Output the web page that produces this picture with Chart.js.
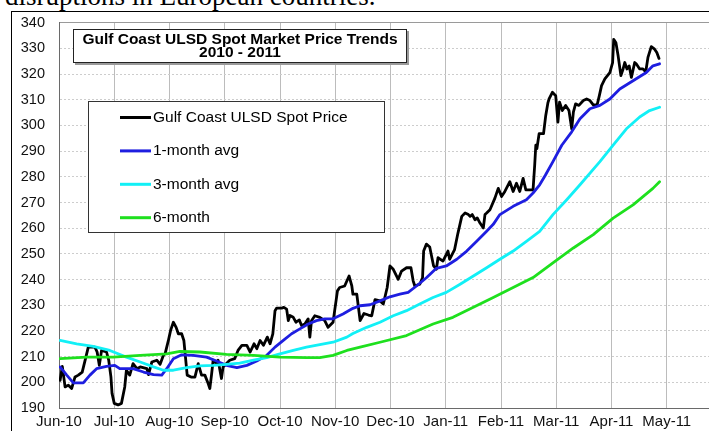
<!DOCTYPE html>
<html><head><meta charset="utf-8">
<script src="https://cdn.jsdelivr.net/npm/chart.js@4.4.1/dist/chart.umd.min.js"></script>
<style>
html,body{margin:0;padding:0;background:#fff;overflow:hidden;width:709px;height:431px;}
#note{position:absolute;left:5px;top:-17px;font-family:'Liberation Serif',serif;font-size:27px;line-height:27px;white-space:nowrap;color:#000;}
#frame{position:absolute;left:11px;top:11px;width:800px;height:500px;border:1px solid #000;box-sizing:border-box;}
#wrap{position:absolute;left:0;top:0;width:760px;height:431px;}
</style></head><body>
<div id="note">disruptions in European countries.</div>
<div id="frame"></div>
<div id="wrap"><canvas id="c" width="760" height="431"></canvas></div>
<script>
const months = ['Jun-10','Jul-10','Aug-10','Sep-10','Oct-10','Nov-10','Dec-10','Jan-11','Feb-11','Mar-11','Apr-11','May-11'];
const yTicks = [190,200,210,220,230,240,250,260,270,280,290,300,310,320,330,340];
const seriesNames = ['Gulf Coast ULSD Spot Price','1-month avg','3-month avg','6-month'];

// x positions are in months since Jun-10
const spotX = [
 0.02,0.06,0.11,0.17,0.23,0.29,0.35,0.42,0.48,0.53,
 0.65,0.69,0.73,0.77,0.86,0.90,0.94,0.96,1.00,1.07,
 1.13,1.19,1.22,1.28,1.34,1.41,1.47,1.59,1.62,1.68,
 1.77,1.83,1.89,1.92,1.98,2.02,2.07,2.12,2.16,2.22,
 2.26,2.32,2.40,2.46,2.52,2.58,2.64,2.70,2.73,2.76,
 2.79,2.85,2.88,2.94,2.97,3.09,3.18,3.24,3.31,3.40,
 3.46,3.53,3.58,3.64,3.70,3.77,3.82,3.87,3.91,3.94,
 4.03,4.07,4.12,4.15,4.18,4.24,4.29,4.35,4.39,4.45,
 4.51,4.54,4.57,4.63,4.72,4.81,4.87,4.96,4.99,5.04,
 5.08,5.17,5.25,5.30,5.32,5.39,5.45,5.52,5.60,5.66,
 5.72,5.81,5.87,5.94,5.99,6.05,6.14,6.20,6.29,6.37,
 6.41,6.44,6.53,6.58,6.60,6.65,6.71,6.78,6.83,6.86,
 6.95,7.04,7.07,7.16,7.22,7.29,7.35,7.41,7.44,7.48,
 7.53,7.57,7.62,7.68,7.71,7.74,7.80,7.89,7.95,8.01,
 8.07,8.16,8.22,8.28,8.34,8.40,8.45,8.52,8.58,8.61,
 8.63,8.65,8.69,8.77,8.81,8.85,8.87,8.93,8.99,9.03,
 9.06,9.11,9.17,9.23,9.28,9.31,9.35,9.41,9.49,9.55,
 9.61,9.67,9.74,9.78,9.82,9.88,9.97,10.02,10.04,10.08,
 10.12,10.17,10.21,10.24,10.28,10.32,10.36,10.42,10.45,10.51,
 10.57,10.62,10.66,10.72,10.78,10.82,10.86];
const spotY = [
 200.8,206.2,198.2,198.9,197.6,202.1,202.8,204.0,209.2,213.7,
 213.7,211.8,206.6,212.4,211.8,208.6,202.1,195.7,191.8,191.2,
 191.8,198.2,204.7,202.8,207.3,205.3,206.0,205.3,203.0,207.9,
 208.6,207.0,210.5,211.1,216.3,220.2,223.4,221.4,218.9,218.9,
 216.3,202.8,202.0,202.0,207.3,202.8,202.8,199.5,197.6,202.8,
 208.6,207.3,208.6,201.5,206.0,208.6,209.2,212.4,214.4,214.4,
 211.8,215.0,213.1,216.3,214.4,217.6,215.0,218.9,227.9,228.9,
 228.9,229.2,228.5,224.0,226.0,225.3,223.4,224.3,222.1,222.7,
 224.7,217.6,224.0,225.9,225.3,224.0,221.4,223.4,228.0,235.6,
 236.9,237.5,241.4,237.5,234.3,234.3,224.0,226.8,226.2,225.9,
 232.2,231.7,230.5,236.9,245.3,244.0,240.1,243.3,244.6,244.6,
 239.5,237.5,238.2,240.7,251.1,253.8,252.7,245.3,244.0,248.5,
 247.2,251.1,247.9,251.7,258.0,264.6,265.9,265.3,264.6,265.3,
 263.3,264.0,262.0,260.1,265.3,265.9,267.2,271.7,275.5,272.3,
 274.3,278.1,274.3,277.5,274.3,279.4,274.9,274.9,274.9,284.6,
 292.3,291.0,296.8,296.8,303.9,308.9,310.3,312.9,311.6,301.3,
 309.1,305.8,307.8,305.8,298.7,305.2,308.4,307.8,309.7,310.3,
 309.7,308.0,308.0,311.6,315.5,318.1,320.6,324.5,333.5,332.2,
 327.1,319.4,322.0,324.5,322.0,323.2,318.7,324.5,323.9,322.0,
 322.0,320.9,326.5,330.7,329.7,328.4,326.1];

const avg1X = [0.02,0.14,0.26,0.44,0.56,0.68,0.86,1.01,1.10,1.34,1.53,1.71,1.86,1.95,2.07,2.22,2.43,2.67,2.85,3.03,3.22,3.40,3.58,3.76,3.91,4.06,4.21,4.36,4.51,4.66,4.81,4.96,5.14,5.32,5.45,5.63,5.81,5.99,6.17,6.32,6.47,6.65,6.83,7.01,7.20,7.38,7.56,7.74,7.86,7.98,8.22,8.46,8.58,8.70,8.80,8.94,9.10,9.28,9.43,9.61,9.79,9.97,10.15,10.39,10.63,10.75,10.87];
const avg1Y = [206.0,202.8,199.8,199.8,202.8,205.3,206.2,206.6,205.3,205.3,204.0,203.0,202.8,205.3,209.2,210.7,210.5,209.8,208.3,206.6,205.7,206.6,208.3,210.5,213.7,216.3,218.9,220.8,222.7,224.0,224.7,224.7,226.6,228.8,229.8,230.2,231.7,233.3,234.3,235.0,237.5,240.7,244.4,245.3,247.9,251.1,254.9,258.8,261.5,265.3,268.5,271.1,273.7,276.9,280.5,285.9,292.3,297.5,302.6,306.5,307.8,310.3,314.2,317.4,320.6,323.2,324.0];

const avg3X = [0.02,0.32,0.62,0.92,1.22,1.47,1.71,1.89,2.07,2.31,2.55,2.79,3.03,3.27,3.52,3.76,4.00,4.24,4.48,4.72,4.96,5.21,5.32,5.57,5.81,6.05,6.29,6.53,6.77,7.01,7.26,7.50,7.74,7.98,8.22,8.46,8.70,8.94,9.19,9.43,9.79,10.03,10.27,10.51,10.69,10.87];
const avg3Y = [216.3,215.0,214.0,212.4,209.8,207.9,206.0,204.7,204.7,205.7,206.4,206.6,207.0,207.5,208.6,209.6,211.1,212.4,213.7,214.7,215.6,217.6,219.0,221.4,223.4,225.9,227.9,230.5,233.0,235.0,238.2,241.4,244.6,247.9,251.1,254.9,258.8,265.3,271.1,276.9,285.9,292.3,298.7,303.3,305.8,307.1];

const avg6X = [0.02,0.50,0.98,1.47,1.95,2.19,2.55,3.03,3.52,4.00,4.48,4.72,4.96,5.21,5.45,5.81,6.29,6.77,7.13,7.50,7.86,8.22,8.58,8.94,9.31,9.67,10.03,10.39,10.75,10.87];
const avg6Y = [209.2,209.8,209.8,210.5,211.1,212.0,211.8,210.9,210.5,209.8,209.6,209.6,210.5,212.4,213.7,215.6,218.2,222.7,225.3,229.2,233.0,236.9,240.8,246.5,252.3,257.5,263.9,269.1,275.5,278.1];

const colors = ['#000000','#1e1ee0','#12f0f6','#1ee01e'];

function pts(xs, ys){ return xs.map((x,i)=>({x:x, y:ys[i]})); }

const boxes = {
  id:'boxes',
  afterDatasetsDraw(chart){
    const ctx = chart.ctx;
    ctx.save();
    // title box
    ctx.fillStyle = '#9a9a9a';
    ctx.fillRect(75, 31, 334, 34);
    ctx.fillStyle = '#fff';
    ctx.fillRect(73, 29, 334, 34);
    ctx.strokeStyle = '#222';
    ctx.lineWidth = 1;
    ctx.strokeRect(73.5, 29.5, 333, 33);
    ctx.fillStyle = '#000';
    ctx.font = 'bold 15.5px "Liberation Sans"';
    ctx.textAlign = 'center';
    ctx.textBaseline = 'middle';
    ctx.fillText('Gulf Coast ULSD Spot Market Price Trends', 240, 39.5);
    ctx.fillText('2010 - 2011', 240, 53);
    // legend box
    ctx.fillStyle = '#fff';
    ctx.fillRect(88, 101, 297, 132);
    ctx.strokeStyle = '#333';
    ctx.strokeRect(88.5, 101.5, 296, 131);
    ctx.textAlign = 'left';
    ctx.font = '15.5px "Liberation Sans"';
    chart.data.datasets.forEach((ds, i) => {
      const y = 117.5 + i * 33.4;
      ctx.strokeStyle = ds.borderColor;
      ctx.lineWidth = 3;
      ctx.beginPath();
      ctx.moveTo(120, y); ctx.lineTo(151, y);
      ctx.stroke();
      ctx.fillStyle = '#000';
      ctx.fillText(ds.label, 153, y);
    });
    ctx.restore();
  }
};

new Chart(document.getElementById('c'), {
  type: 'line',
  data: {
    datasets: [
      {label: seriesNames[0], data: pts(spotX, spotY), borderColor: colors[0], borderWidth: 2.8, order: 4},
      {label: seriesNames[1], data: pts(avg1X, avg1Y), borderColor: colors[1], borderWidth: 2.8, order: 3},
      {label: seriesNames[2], data: pts(avg3X, avg3Y), borderColor: colors[2], borderWidth: 2.8, order: 2},
      {label: seriesNames[3], data: pts(avg6X, avg6Y), borderColor: colors[3], borderWidth: 2.8, order: 1}
    ]
  },
  options: {
    responsive: false,
    animation: false,
    events: [],
    layout: {padding: {left: 0, right: 38, top: 20, bottom: 0}},
    elements: {point: {radius: 0}, line: {tension: 0, borderJoinStyle: 'round', borderCapStyle: 'round'}},
    plugins: {legend: {display: false}, tooltip: {enabled: false}, title: {display: false}},
    scales: {
      x: {
        type: 'linear', min: 0, max: 12,
        afterBuildTicks: s => { s.ticks = months.map((m, i) => ({value: i})); },
        afterFit: s => { s.height = 23; },
        ticks: {autoSkip: false, maxRotation: 0, minRotation: 0, padding: 5, color: '#111',
                font: {family: 'Liberation Sans', size: 15},
                callback: v => months[v] !== undefined ? months[v] : ''},
        grid: {color: '#bcbcbc', lineWidth: 1, drawTicks: false},
        border: {display: true, color: '#6a6a6a', width: 1}
      },
      y: {
        min: 190, max: 340,
        afterBuildTicks: s => { s.ticks = yTicks.map(v => ({value: v})); },
        afterFit: s => { s.width = 59; },
        ticks: {padding: 14, color: '#111', font: {family: 'Liberation Sans', size: 14.5}},
        grid: {color: c => (c.tick && c.tick.value === 340) ? '#9a9a9a' : '#cdcdcd', lineWidth: 1, drawTicks: false},
        border: {display: true, color: '#6a6a6a', width: 1,
                 dash: c => (c.tick && c.tick.value === 340) ? [] : [2, 2]}
      }
    }
  },
  plugins: [boxes]
});
</script>
</body></html>
